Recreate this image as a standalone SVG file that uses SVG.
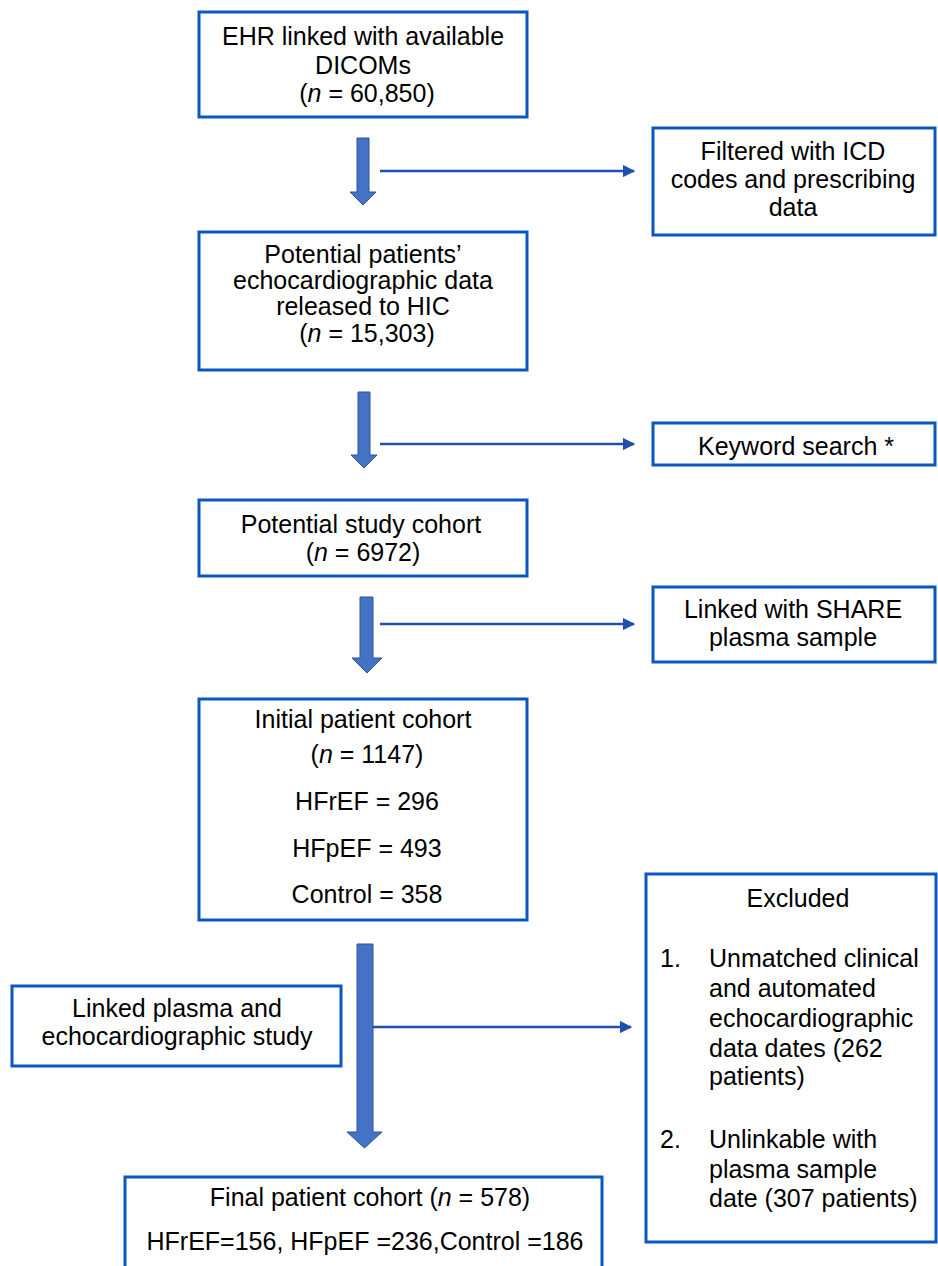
<svg xmlns="http://www.w3.org/2000/svg" width="938" height="1266" viewBox="0 0 938 1266">
<defs>
<style>
.box{fill:#fff;stroke:#0b57c0;stroke-width:3}
.t{font-family:"Liberation Sans",Arial,sans-serif;font-size:25px;fill:#000;text-anchor:middle}
.tl{font-family:"Liberation Sans",Arial,sans-serif;font-size:25px;fill:#000}
.i{font-style:italic}
.big{fill:#4472c4;stroke:#2f5597;stroke-width:1}
.con{stroke:#1f4fb0;stroke-width:2.5;fill:none}
</style>
<marker id="ah" viewBox="0 0 10 10" refX="9" refY="5" markerWidth="5" markerHeight="5" orient="auto" markerUnits="strokeWidth">
<path d="M0,0 L10,5 L0,10 z" fill="#1f4fb0"/>
</marker>
</defs>
<rect width="938" height="1266" fill="#fff"/>

<g id="connectors">
<path class="big" d="M357,138 H369 V192 H376 L363,205 L350,192 H357 Z"/>
<line class="con" x1="380" y1="171" x2="634" y2="171" marker-end="url(#ah)"/>
<path class="big" d="M358,392 H370 V455 H377 L364,468 L351,455 H358 Z"/>
<line class="con" x1="380" y1="444" x2="634" y2="444" marker-end="url(#ah)"/>
<path class="big" d="M360,597 H373 V658 H382 L367,673 L352,658 H360 Z"/>
<line class="con" x1="380" y1="624" x2="634" y2="624" marker-end="url(#ah)"/>
<path class="big" d="M357,944 H373 V1132 H382 L364.5,1148 L347,1132 H357 Z"/>
<line class="con" x1="373" y1="1027" x2="631" y2="1027" marker-end="url(#ah)"/>
</g>

<g id="n1">
<rect class="box" x="199" y="12" width="328" height="105"/>
<text class="t" x="363" y="45">EHR linked with available</text>
<text class="t" x="363" y="74">DICOMs</text>
<text class="t" x="367" y="102">(<tspan class="i">n</tspan> = 60,850)</text>
</g>

<g id="n2">
<rect class="box" x="653" y="128" width="282" height="107"/>
<text class="t" x="793" y="160">Filtered with ICD</text>
<text class="t" x="793" y="188">codes and prescribing</text>
<text class="t" x="793" y="216">data</text>
</g>

<g id="n3">
<rect class="box" x="199" y="232" width="328" height="138"/>
<text class="t" x="363" y="263">Potential patients’</text>
<text class="t" x="363" y="289">echocardiographic data</text>
<text class="t" x="363" y="315">released to HIC</text>
<text class="t" x="367" y="342">(<tspan class="i">n</tspan> = 15,303)</text>
</g>

<g id="n4">
<rect class="box" x="653" y="423" width="282" height="42"/>
<text class="t" x="796" y="455">Keyword search *</text>
</g>

<g id="n5">
<rect class="box" x="199" y="500" width="328" height="76"/>
<text class="t" x="361" y="533">Potential study cohort</text>
<text class="t" x="363" y="561">(<tspan class="i">n</tspan> = 6972)</text>
</g>

<g id="n6">
<rect class="box" x="653" y="587" width="282" height="75"/>
<text class="t" x="793" y="618">Linked with SHARE</text>
<text class="t" x="793" y="646">plasma sample</text>
</g>

<g id="n7">
<rect class="box" x="199" y="699" width="328" height="221"/>
<text class="t" x="363" y="728">Initial patient cohort</text>
<text class="t" x="367" y="763">(<tspan class="i">n</tspan> = 1147)</text>
<text class="t" x="367" y="810">HFrEF = 296</text>
<text class="t" x="367" y="857">HFpEF = 493</text>
<text class="t" x="367" y="903">Control = 358</text>
</g>

<g id="n8">
<rect class="box" x="12" y="986" width="329" height="80"/>
<text class="t" x="177" y="1017">Linked plasma and</text>
<text class="t" x="177" y="1045">echocardiographic study</text>
</g>

<g id="n9">
<rect class="box" x="646" y="874" width="290" height="368"/>
<text class="t" x="798" y="907">Excluded</text>
<text class="tl" x="660" y="967">1.</text>
<text class="tl" x="709" y="967">Unmatched clinical</text>
<text class="tl" x="709" y="997">and automated</text>
<text class="tl" x="709" y="1027">echocardiographic</text>
<text class="tl" x="709" y="1057">data dates (262</text>
<text class="tl" x="709" y="1085">patients)</text>
<text class="tl" x="660" y="1148">2.</text>
<text class="tl" x="709" y="1148">Unlinkable with</text>
<text class="tl" x="709" y="1178">plasma sample</text>
<text class="tl" x="709" y="1207">date (307 patients)</text>
</g>

<g id="n10">
<rect class="box" x="125" y="1177" width="477" height="95"/>
<text class="t" x="370" y="1206">Final patient cohort (<tspan class="i">n</tspan> = 578)</text>
<text class="t" x="365" y="1250">HFrEF=156, HFpEF =236,Control =186</text>
</g>
</svg>
